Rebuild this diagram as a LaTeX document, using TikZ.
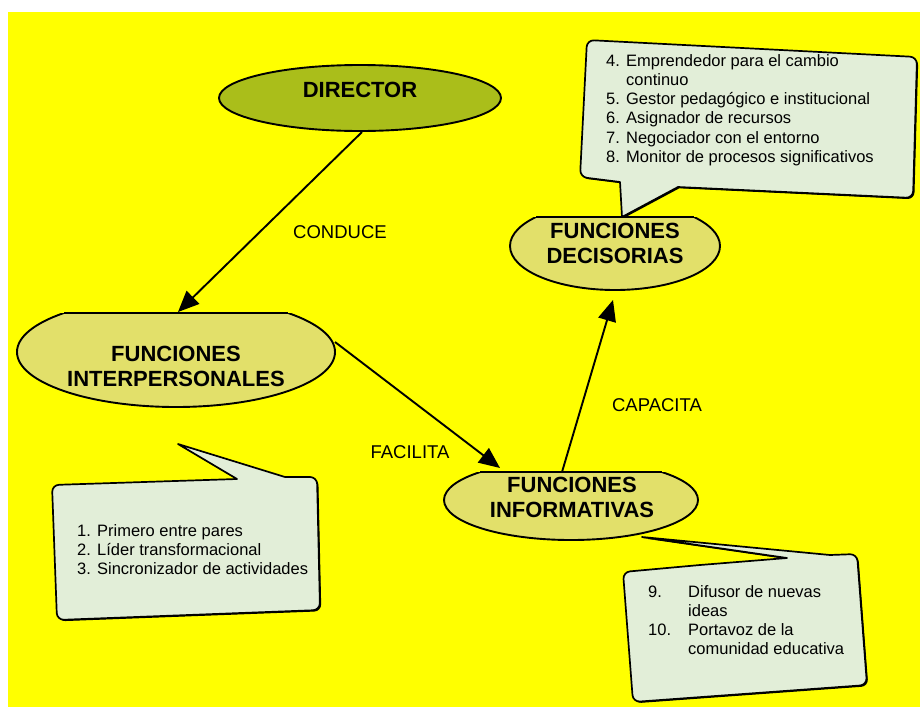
\documentclass[tikz,border=0pt]{standalone}
\usepackage{fontspec}
\setmainfont{Liberation Sans}
\usetikzlibrary{arrows.meta,shadows}
\definecolor{bgyellow}{RGB}{255,255,0}
\definecolor{dirfill}{RGB}{170,190,26}
\definecolor{funcfill}{RGB}{226,224,106}
\definecolor{callfill}{RGB}{226,238,216}
\begin{document}
\begin{tikzpicture}[x=1pt,y=-1pt,line join=round,
  shapeline/.style={draw=black,line width=1.9pt},
  headtext/.style={font=\bfseries\fontsize{22}{25}\selectfont,align=center,inner sep=0pt},
  linklabel/.style={font=\fontsize{18.5}{22}\selectfont,inner sep=0pt},
  itemtext/.style={font=\fontsize{16.5}{19.3}\selectfont,inner sep=0pt,anchor=base west},
  callout/.style={fill=callfill,draw=black,line width=1.7pt,
    drop shadow={shadow xshift=1.3pt,shadow yshift=-1.3pt,opacity=1,fill=black}},
  conn/.style={line width=1.9pt,-{Triangle[length=21pt,width=18pt]}}]
\useasboundingbox (0,0) rectangle (920,707);
\fill[bgyellow] (8,12) rectangle (920,707);

% callouts
\draw[callout] (752,48.5) [rounded corners=7pt] -- (917,57) -- (913,198) [sharp corners] -- (678,187) -- (622,217) -- (620,182) [rounded corners=7pt] -- (580,177) -- (587,40) -- cycle;
\draw[callout] (150,481.8) [rounded corners=7pt] -- (52,485) -- (57,620) -- (320,610) -- (317,477) [sharp corners] -- (285,477) -- (178,444) -- (237,479) -- cycle;
\draw[callout] (700,565) [sharp corners] -- (787,558) -- (642,537) -- (830,555) [rounded corners=7pt] -- (857,554) -- (867,685) -- (633,702) -- (623,572) [sharp corners] -- cycle;

% DIRECTOR
\draw[shapeline,fill=dirfill] (360,98) ellipse [x radius=141,y radius=33];

% FUNCIONES INTERPERSONALES
\begin{scope}
\clip (10,313) rectangle (345,420);
\fill[funcfill] (176,352) ellipse [x radius=159,y radius=55];
\draw[shapeline] (176,352) ellipse [x radius=159,y radius=55];
\end{scope}
\draw[shapeline] (64,313) -- (288,313);

% FUNCIONES DECISORIAS
\begin{scope}
\clip (500,217) rectangle (730,300);
\fill[funcfill] (615,246) ellipse [x radius=105,y radius=44];
\draw[shapeline] (615,246) ellipse [x radius=105,y radius=44];
\end{scope}
\draw[shapeline] (536,217) -- (694,217);

% FUNCIONES INFORMATIVAS
\begin{scope}
\clip (435,472) rectangle (710,550);
\fill[funcfill] (571,500) ellipse [x radius=127,y radius=40];
\draw[shapeline] (571,500) ellipse [x radius=127,y radius=40];
\end{scope}
\draw[shapeline] (480,472) -- (662,472);

% texts
\node[headtext] (dir) at (360,90) {DIRECTOR};
\node[headtext] (inter) at (176,366) {FUNCIONES\\INTERPERSONALES};
\node[headtext] (deci) at (615,243) {FUNCIONES\\DECISORIAS};
\node[headtext] (info) at (572,497) {FUNCIONES\\INFORMATIVAS};

% connectors
\coordinate (dirout) at (362,132);
\coordinate (interin) at (178,312);
\coordinate (interout) at (335,342);
\coordinate (infoin) at (500,468);
\coordinate (infoout) at (562,472);
\coordinate (deciin) at (613,300);
\draw[conn] (dirout) -- (interin);
\draw[conn] (interout) -- (infoin);
\draw[conn] (infoout) -- (deciin);

\node[linklabel] (lconduce) at (340,232) {CONDUCE};
\node[linklabel] (lfacilita) at (410,452) {FACILITA};
\node[linklabel] (lcapacita) at (657,405) {CAPACITA};

% callout texts
\node[itemtext] (decitext) at (606,66) {\begin{tabular}[t]{@{}l@{\hspace{6.2pt}}l@{}}
4.&Emprendedor para el cambio\\
&continuo\\
5.&Gestor pedagógico e institucional\\
6.&Asignador de recursos\\
7.&Negociador con el entorno\\
8.&Monitor de procesos significativos
\end{tabular}};
\node[itemtext] (intertext) at (77,536) {\begin{tabular}[t]{@{}l@{\hspace{6.2pt}}l@{}}
1.&Primero entre pares\\
2.&Líder transformacional\\
3.&Sincronizador de actividades
\end{tabular}};
\node[itemtext] (infotext) at (648,597) {\begin{tabular}[t]{@{}p{40pt}@{}l@{}}
9.&Difusor de nuevas\\
&ideas\\
10.&Portavoz de la\\
&comunidad educativa
\end{tabular}};
\end{tikzpicture}
\end{document}
